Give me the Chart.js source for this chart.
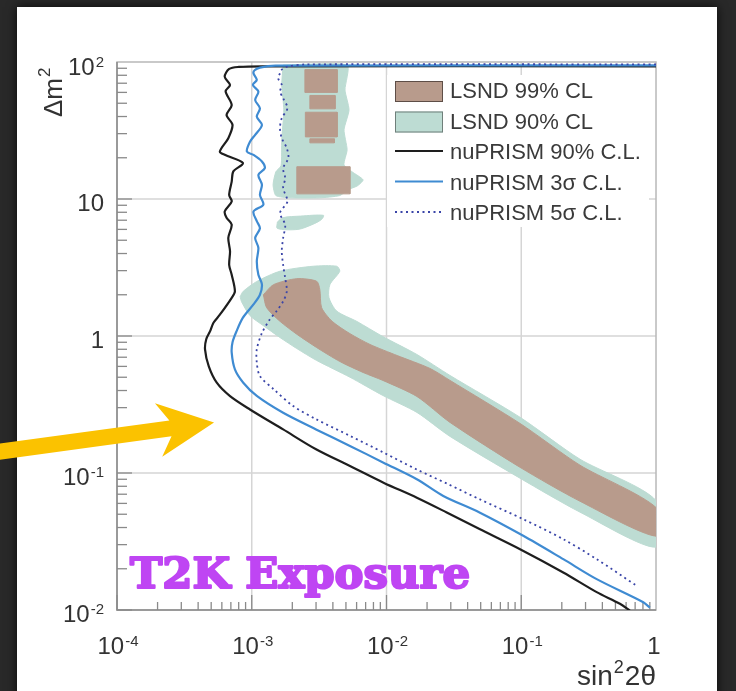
<!DOCTYPE html>
<html><head><meta charset="utf-8">
<script src="https://cdn.jsdelivr.net/npm/chart.js@4"></script>
<style>html,body{margin:0;padding:0;background:#292929;overflow:hidden}canvas{display:block}</style>
</head><body>
<canvas id="c" width="736" height="691"></canvas>
<script>
// ---------- data (sin^2 2theta , delta m^2) ----------
const nu90X = [1, 1.2e-3, 8.0e-4, 6.8e-4, 6.3e-4, 6.9e-4, 6.4e-4, 7.1e-4, 6.5e-4, 7.2e-4, 6.7e-4, 5.8e-4, 6.3e-4, 8.6e-4, 7.3e-4, 7.1e-4, 6.8e-4, 7.1e-4, 6.3e-4, 6.5e-4, 7.1e-4, 6.7e-4, 6.9e-4, 6.8e-4, 7.1e-4, 7.5e-4, 7.1e-4, 5.8e-4, 5.2e-4, 4.9e-4, 4.6e-4, 4.5e-4, 4.8e-4, 5.5e-4, 6.9e-4, 9.7e-4, 1.71e-3, 3.0e-3, 5.4e-3, 9.5e-3, 0.0168, 0.028, 0.049, 0.098, 0.205, 0.363, 0.54, 0.64];
const nu90Y = [93, 93, 92, 89, 78, 68, 61, 48.6, 41, 34.8, 27.8, 22.2, 21.0, 18.3, 15.9, 13.4, 10.7, 9.6, 8.1, 7.3, 6.5, 5.2, 4.15, 3.3, 2.8, 2.12, 1.9, 1.43, 1.25, 1.08, 0.95, 0.80, 0.60, 0.456, 0.364, 0.291, 0.208, 0.149, 0.112, 0.085, 0.066, 0.0515, 0.039, 0.0278, 0.0188, 0.0135, 0.0111, 0.0099];

const nu3sX = [1, 1.5e-3, 1.15e-3, 1.05e-3, 1.03e-3, 1.09e-3, 1.02e-3, 1.12e-3, 1.06e-3, 1.15e-3, 1.09e-3, 1.19e-3, 1.06e-3, 9.7e-4, 9.2e-4, 1.03e-3, 1.19e-3, 1.25e-3, 1.12e-3, 1.19e-3, 1.15e-3, 1.22e-3, 1.03e-3, 1.09e-3, 1.15e-3, 1.06e-3, 1.12e-3, 1.09e-3, 1.12e-3, 1.19e-3, 1.15e-3, 1.03e-3, 8.6e-4, 7.7e-4, 7.2e-4, 7.1e-4, 7.5e-4, 8.65e-4, 1.09e-3, 1.71e-3, 3.0e-3, 5.4e-3, 9.5e-3, 0.0168, 0.0264, 0.049, 0.1035, 0.205, 0.363, 0.805, 0.9];
const nu3sY = [94.5, 94, 91, 87, 82.7, 74, 68, 60.8, 52.8, 45.9, 39.9, 34.7, 29.4, 26.2, 22.2, 21, 18.8, 16.8, 15, 12.7, 10.7, 9.1, 8.1, 6.9, 6.1, 5.2, 4.4, 3.5, 2.8, 2.38, 2.0, 1.7, 1.36, 1.08, 0.9, 0.755, 0.57, 0.456, 0.365, 0.275, 0.208, 0.157, 0.119, 0.09, 0.068, 0.0515, 0.0348, 0.0235, 0.0168, 0.0114, 0.0104];

const nu5sX = [1, 2.5e-3, 1.8e-3, 1.65e-3, 1.62e-3, 1.57e-3, 1.67e-3, 1.62e-3, 1.71e-3, 1.84e-3, 1.67e-3, 1.62e-3, 1.67e-3, 1.82e-3, 1.87e-3, 1.71e-3, 1.77e-3, 1.71e-3, 1.84e-3, 1.62e-3, 1.77e-3, 1.71e-3, 1.67e-3, 1.71e-3, 1.77e-3, 1.82e-3, 1.71e-3, 1.53e-3, 1.36e-3, 1.19e-3, 1.09e-3, 1.09e-3, 1.15e-3, 1.45e-3, 2.03e-3, 3.0e-3, 5.4e-3, 9.5e-3, 0.0168, 0.0286, 0.049, 0.1035, 0.205, 0.363, 0.72];
const nu5sY = [96, 96, 92, 87, 82.7, 76, 68, 60.8, 54.4, 46, 38.9, 32.9, 27.8, 23.5, 19.9, 16.8, 14.2, 12, 9.6, 7.9, 6.5, 5.2, 4.15, 3.3, 2.65, 2.12, 1.79, 1.52, 1.32, 1.05, 0.80, 0.64, 0.51, 0.41, 0.308, 0.247, 0.186, 0.141, 0.106, 0.083, 0.0644, 0.046, 0.0329, 0.0235, 0.015];

const lsnd90HighX = [1.71e-3, 5.1e-3, 4.92e-3, 5.27e-3, 4.84e-3, 5.1e-3, 4.84e-3, 5.55e-3, 6.7e-3, 6.1e-3, 5.2e-3, 4.5e-3, 3.2e-3, 1.92e-3, 1.51e-3, 1.44e-3, 1.51e-3, 1.65e-3, 1.67e-3, 1.73e-3, 1.67e-3, 1.71e-3];
const lsnd90HighY = [95, 95, 62.5, 44.7, 32, 22.9, 17.8, 15.8, 13.8, 12.5, 11.7, 10.6, 10.2, 10.2, 10.6, 12.7, 15.8, 17.5, 27, 44.7, 68, 95];

const lsnd90IslandX = [1.55e-3, 1.7e-3, 2.3e-3, 3.4e-3, 3.3e-3, 2.8e-3, 2.2e-3, 1.55e-3, 1.55e-3];
const lsnd90IslandY = [6.8, 7.3, 7.5, 7.6, 7.1, 6.5, 6.0, 6.1, 6.8];

const lsnd90BandX = [8.2e-4, 8.65e-4, 1.09e-3, 1.62e-3, 2.86e-3, 4.27e-3, 4.5e-3, 3.8e-3, 3.74e-3, 4.27e-3, 6.0e-3, 9.4e-3, 0.0168, 0.0296, 0.098, 0.273, 1, 1, 0.273, 0.098, 0.0296, 0.0168, 9.4e-3, 5.36e-3, 3.03e-3, 2.16e-3, 1.62e-3, 1.22e-3, 9.7e-4, 8.4e-4, 8.2e-4];
const lsnd90BandY = [1.94, 2.12, 2.5, 2.97, 3.23, 3.23, 2.97, 2.37, 1.91, 1.52, 1.28, 0.99, 0.733, 0.515, 0.255, 0.126, 0.063, 0.0288, 0.0518, 0.0916, 0.185, 0.277, 0.368, 0.5, 0.663, 0.81, 0.975, 1.19, 1.41, 1.78, 1.94];

const lsnd99BandX = [1.22e-3, 1.45e-3, 2.16e-3, 3.03e-3, 3.2e-3, 3.3e-3, 3.95e-3, 5.36e-3, 7.55e-3, 0.012, 0.021, 0.0296, 0.098, 0.273, 1, 1, 0.273, 0.098, 0.0296, 0.0168, 9.4e-3, 6.7e-3, 4.5e-3, 3.03e-3, 2.16e-3, 1.62e-3, 1.29e-3, 1.22e-3];
const lsnd99BandY = [2.0, 2.37, 2.62, 2.51, 2.18, 1.61, 1.28, 1.04, 0.867, 0.72, 0.58, 0.474, 0.23, 0.114, 0.056, 0.0346, 0.0622, 0.110, 0.234, 0.362, 0.474, 0.542, 0.652, 0.824, 1.03, 1.28, 1.61, 2.0];

const lsnd99StripeLeft   = [2.48e-3, 2.7e-3, 2.5e-3, 2.7e-3, 2.16e-3];
const lsnd99StripeRight  = [4.3e-3, 4.15e-3, 4.3e-3, 4.1e-3, 5.35e-3];
const lsnd99StripeTop    = [88, 57, 43, 27.5, 17.2];
const lsnd99StripeBottom = [60, 45.5, 28.4, 25.7, 10.9];

const legendLabels = ['LSND 99% CL', 'LSND 90% CL', 'nuPRISM 90% C.L.', 'nuPRISM 3\u03c3 C.L.', 'nuPRISM 5\u03c3 C.L.'];
const xTickValues = [1e-4, 1e-3, 1e-2, 1e-1, 1];
const xTickLabels = [['10', '-4'], ['10', '-3'], ['10', '-2'], ['10', '-1'], ['1', '']];
const yTickValues = [1e-2, 1e-1, 1, 10, 100];
const yTickLabels = [['10', '-2'], ['10', '-1'], ['1', ''], ['10', ''], ['10', '2']];
const arrowTip = {x: 5.25e-4, y: 0.234};

// ---------- styles ----------
const BROWN = '#b89b8c', GREEN = '#bddcd3', BLACK = '#1e1e1e', BLUE = '#3f8bd2', NAVY = '#3a45a8';
const FONT = '"Liberation Sans", Arial, sans-serif';

const pts = (xs, ys) => xs.map((x, i) => ({x, y: ys[i]}));
function region(label, data, color, order, tension) {
  return {label, data, showLine: true, fill: 'shape', backgroundColor: color, borderColor: color,
          borderWidth: 1, pointRadius: 0, tension: tension, order};
}
const datasets = [
  region(legendLabels[1], pts(lsnd90HighX, lsnd90HighY), GREEN, 10, 0.2),
  region(legendLabels[1], pts(lsnd90IslandX, lsnd90IslandY), GREEN, 10, 0.3),
  region(legendLabels[1], pts(lsnd90BandX, lsnd90BandY), GREEN, 10, 0.25),
  region(legendLabels[0], pts(lsnd99BandX, lsnd99BandY), BROWN, 9, 0.25)
];
lsnd99StripeLeft.forEach((l, i) => {
  const r = lsnd99StripeRight[i], t = lsnd99StripeTop[i], b = lsnd99StripeBottom[i];
  datasets.push(region(legendLabels[0], [{x:l,y:t},{x:r,y:t},{x:r,y:b},{x:l,y:b},{x:l,y:t}], BROWN, 9, 0));
});
datasets.push({label: legendLabels[2], data: pts(nu90X, nu90Y), showLine: true, borderColor: BLACK, borderWidth: 2.2, pointRadius: 0, tension: 0.3, order: 3, fill: false});
datasets.push({label: legendLabels[3], data: pts(nu3sX, nu3sY), showLine: true, borderColor: BLUE, borderWidth: 2.2, pointRadius: 0, tension: 0.3, order: 2, fill: false});
datasets.push({label: legendLabels[4], data: pts(nu5sX, nu5sY), showLine: true, borderColor: NAVY, borderWidth: 1.8, borderDash: [2, 3.5], pointRadius: 0, tension: 0.3, order: 1, fill: false});

const legendEntries = [
  {label: legendLabels[0], kind: 'box', color: BROWN, edge: '#5e4e47'},
  {label: legendLabels[1], kind: 'box', color: GREEN, edge: '#6f7f7a'},
  {label: legendLabels[2], kind: 'line', color: BLACK, width: 2.2},
  {label: legendLabels[3], kind: 'line', color: BLUE, width: 2.2},
  {label: legendLabels[4], kind: 'line', color: NAVY, width: 1.8, dash: [2, 3.5]}
];

function powLabel(ctx, parts, x, y, align, color) {
  ctx.fillStyle = color;
  ctx.font = '24px ' + FONT;
  const wb = ctx.measureText(parts[0]).width;
  ctx.font = '15px ' + FONT;
  const ws = parts[1] ? ctx.measureText(parts[1]).width + 1 : 0;
  const tot = wb + ws;
  const x0 = align === 'right' ? x - tot : align === 'center' ? x - tot / 2 : x;
  ctx.textAlign = 'left'; ctx.textBaseline = 'alphabetic';
  ctx.font = '24px ' + FONT; ctx.fillText(parts[0], x0, y);
  if (parts[1]) { ctx.font = '15px ' + FONT; ctx.fillText(parts[1], x0 + wb + 1, y - 8); }
}

const deco = {
  id: 'deco',
  beforeDraw(chart) {
    const {ctx, width, height} = chart;
    ctx.save();
    ctx.fillStyle = '#292929'; ctx.fillRect(0, 0, width, height);
    ctx.shadowColor = 'rgba(0,0,0,0.8)'; ctx.shadowBlur = 10;
    ctx.fillStyle = '#ffffff'; ctx.fillRect(17, 7, 700, 720);
    ctx.restore();
  },
  beforeDatasetsDraw(chart) {
    const {ctx, chartArea: a} = chart, sx = chart.scales.x, sy = chart.scales.y;
    ctx.save();
    ctx.strokeStyle = '#d5d5d5'; ctx.lineWidth = 1.5;
    xTickValues.slice(1, -1).forEach(v => { const p = sx.getPixelForValue(v); ctx.beginPath(); ctx.moveTo(p, a.top); ctx.lineTo(p, a.bottom); ctx.stroke(); });
    yTickValues.slice(1, -1).forEach(v => { const p = sy.getPixelForValue(v); ctx.beginPath(); ctx.moveTo(a.left, p); ctx.lineTo(a.right, p); ctx.stroke(); });
    ctx.strokeStyle = '#b8b8b8'; ctx.lineWidth = 1.5;
    ctx.strokeRect(a.left, a.top, a.right - a.left, a.bottom - a.top);
    ctx.strokeStyle = '#8a8a8a';
    ctx.beginPath(); ctx.moveTo(a.left, a.top); ctx.lineTo(a.left, a.bottom); ctx.lineTo(a.right, a.bottom); ctx.stroke();
    ctx.lineWidth = 1.3;
    for (let i = 0; i < xTickValues.length - 1; i++) {
      for (let m = 1; m <= 9; m++) {
        const v = xTickValues[i] * m, p = sx.getPixelForValue(v), len = m === 1 ? 15 : 8;
        ctx.beginPath(); ctx.moveTo(p, a.bottom); ctx.lineTo(p, a.bottom - len); ctx.stroke();
      }
    }
    for (let i = 0; i < yTickValues.length - 1; i++) {
      for (let m = 1; m <= 9; m++) {
        const v = yTickValues[i] * m, p = sy.getPixelForValue(v), len = m === 1 ? 15 : 10;
        ctx.beginPath(); ctx.moveTo(a.left, p); ctx.lineTo(a.left + len, p); ctx.stroke();
      }
    }
    ctx.restore();
  },
  afterDraw(chart) {
    const {ctx, chartArea: a} = chart, sx = chart.scales.x, sy = chart.scales.y;
    ctx.save();
    // legend
    const lx = a.left + 270, ly = a.top + 13;
    ctx.fillStyle = '#ffffff'; ctx.fillRect(lx, ly, 262, 152);
    legendEntries.forEach((e, i) => {
      const cy = ly + 16 + i * 30.5;
      if (e.kind === 'box') {
        ctx.fillStyle = e.color; ctx.fillRect(lx + 8, cy - 10, 48, 21);
        ctx.strokeStyle = e.edge; ctx.lineWidth = 1; ctx.strokeRect(lx + 8.5, cy - 9.5, 47, 20);
      } else {
        ctx.strokeStyle = e.color; ctx.lineWidth = e.width; ctx.setLineDash(e.dash || []);
        ctx.beginPath(); ctx.moveTo(lx + 8, cy - 1); ctx.lineTo(lx + 56, cy - 1); ctx.stroke(); ctx.setLineDash([]);
      }
      ctx.fillStyle = '#3a3a3a'; ctx.font = '22px ' + FONT; ctx.textAlign = 'left'; ctx.textBaseline = 'middle';
      ctx.fillText(e.label, lx + 63, cy + 1);
    });
    // tick labels
    xTickValues.forEach((v, i) => powLabel(ctx, xTickLabels[i], sx.getPixelForValue(v) + (i === xTickValues.length - 1 ? -2 : 1), a.bottom + 44, 'center', '#333'));
    yTickValues.forEach((v, i) => powLabel(ctx, yTickLabels[i], a.left - 13, sy.getPixelForValue(v) + (i === yTickValues.length - 1 ? 13 : 12), 'right', '#333'));
    // axis titles
    ctx.fillStyle = '#333'; ctx.textBaseline = 'alphabetic'; ctx.textAlign = 'right';
    ctx.font = '18px ' + FONT;
    const ws = ctx.measureText('2').width;
    ctx.font = '28px ' + FONT;
    const w2t = ctx.measureText('2\u03b8').width;
    ctx.fillText('2\u03b8', a.right, a.bottom + 75);
    ctx.font = '18px ' + FONT; ctx.fillText('2', a.right - w2t - 1, a.bottom + 63);
    ctx.font = '28px ' + FONT; ctx.fillText('sin', a.right - w2t - ws - 2, a.bottom + 75);
    ctx.save();
    ctx.translate(a.left - 55, a.top + 55); ctx.rotate(-Math.PI / 2);
    ctx.textAlign = 'left'; ctx.font = '26px ' + FONT;
    ctx.fillText('\u0394m', 0, 0);
    const wdm = ctx.measureText('\u0394m').width;
    ctx.font = '17px ' + FONT; ctx.fillText('2', wdm + 1, -12);
    ctx.restore();
    // T2K Exposure
    ctx.save();
    ctx.font = 'bold 42px "DejaVu Serif", serif';
    const tw = ctx.measureText('T2K Exposure').width;
    ctx.translate(a.left + 13, a.bottom - 22); ctx.scale(340 / tw, 1);
    ctx.fillStyle = '#bf45f3'; ctx.strokeStyle = '#bf45f3'; ctx.lineWidth = 2.2; ctx.lineJoin = 'round';
    ctx.textAlign = 'left'; ctx.textBaseline = 'alphabetic';
    ctx.strokeText('T2K Exposure', 0, 0);
    ctx.fillText('T2K Exposure', 0, 0);
    ctx.restore();
    // arrow
    const tx = sx.getPixelForValue(arrowTip.x), ty = sy.getPixelForValue(arrowTip.y);
    const bx = tx - 235, by = ty + 32;
    const L = Math.hypot(tx - bx, ty - by), ux = (tx - bx) / L, uy = (ty - by) / L, nx = -uy, ny = ux;
    const hw = 8, hh = 27;
    const J = {x: tx - 44 * ux, y: ty - 44 * uy}, B = {x: tx - 56 * ux, y: ty - 56 * uy};
    ctx.fillStyle = '#fbc200';
    ctx.beginPath();
    ctx.moveTo(bx + nx * hw, by + ny * hw);
    ctx.lineTo(J.x + nx * hw, J.y + ny * hw);
    ctx.lineTo(B.x + nx * hh, B.y + ny * hh);
    ctx.lineTo(tx, ty);
    ctx.lineTo(B.x - nx * hh, B.y - ny * hh);
    ctx.lineTo(J.x - nx * hw, J.y - ny * hw);
    ctx.lineTo(bx - nx * hw, by - ny * hw);
    ctx.closePath(); ctx.fill();
    ctx.restore();
  }
};

new Chart(document.getElementById('c'), {
  type: 'scatter',
  data: {datasets},
  options: {
    responsive: false, animation: false, devicePixelRatio: 1,
    layout: {padding: {left: 117, top: 62, right: 80, bottom: 81}},
    plugins: {legend: {display: false}, tooltip: {enabled: false}},
    scales: {
      x: {type: 'logarithmic', min: 1e-4, max: 1, display: false},
      y: {type: 'logarithmic', min: 1e-2, max: 100, display: false}
    }
  },
  plugins: [deco]
});
</script>
</body></html>
